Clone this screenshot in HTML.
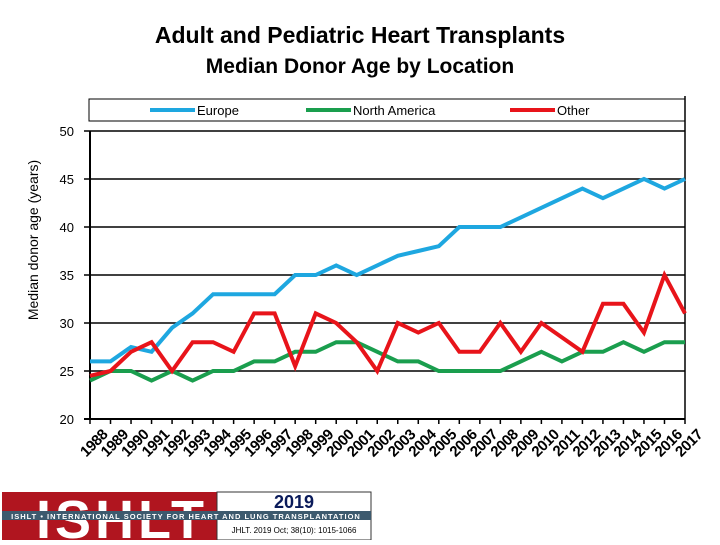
<!DOCTYPE html>
<html><head><meta charset="utf-8"><style>
body{margin:0;background:#fff;font-family:"Liberation Sans",sans-serif}
</style></head><body>
<svg width="720" height="540" xmlns="http://www.w3.org/2000/svg" id="c">
<text x="360" y="43" text-anchor="middle" font-size="23" font-weight="bold">Adult and Pediatric Heart Transplants</text>
<text x="360" y="73" text-anchor="middle" font-size="21" font-weight="bold">Median Donor Age by Location</text>
<rect x="89" y="99" width="596" height="22" fill="#fff" stroke="#000"/>
<g><line x1="150" y1="110" x2="195" y2="110" stroke="#1ea7e0" stroke-width="4"/><text x="197" y="115" font-size="13">Europe</text></g>
<g><line x1="306" y1="110" x2="351" y2="110" stroke="#1a9e4e" stroke-width="4"/><text x="353" y="115" font-size="13">North America</text></g>
<g><line x1="510" y1="110" x2="555" y2="110" stroke="#e8141a" stroke-width="4"/><text x="557" y="115" font-size="13">Other</text></g>
<text transform="translate(38,240) rotate(-90)" text-anchor="middle" font-size="14">Median donor age (years)</text>
<g id="plot"></g>
<g>
<rect x="2" y="492" width="215" height="48" fill="#b0151f"/>
<text x="122" y="538" text-anchor="middle" font-size="54" font-weight="bold" fill="#fff" letter-spacing="4">ISHLT</text>
<rect x="217" y="492" width="154" height="48" fill="#fff" stroke="#333"/>
<rect x="2" y="511" width="369" height="9" fill="#3d5a6e"/>
<text x="186" y="519" text-anchor="middle" font-size="7.5" font-weight="bold" fill="#fff" letter-spacing="1">ISHLT • INTERNATIONAL SOCIETY FOR HEART AND LUNG TRANSPLANTATION</text>
<text x="294" y="508" text-anchor="middle" font-size="18" font-weight="bold" fill="#0a1a5a">2019</text>
<text x="294" y="533" text-anchor="middle" font-size="8">JHLT. 2019 Oct; 38(10): 1015-1066</text>
</g>
</svg>
<script>
const years=[1988,1989,1990,1991,1992,1993,1994,1995,1996,1997,1998,1999,2000,2001,2002,2003,2004,2005,2006,2007,2008,2009,2010,2011,2012,2013,2014,2015,2016,2017];
const europe=[26,26,27.5,27,29.5,31,33,33,33,33,35,35,36,35,36,37,37.5,38,40,40,40,41,42,43,44,43,44,45,44,45];
const northAmerica=[24,25,25,24,25,24,25,25,26,26,27,27,28,28,27,26,26,25,25,25,25,26,27,26,27,27,28,27,28,28];
const other=[24.5,25,27,28,25,28,28,27,31,31,25.5,31,30,28,25,30,29,30,27,27,30,27,30,28.5,27,32,32,29,35,31];
const yTicks=[20,25,30,35,40,45,50];
const NS="http://www.w3.org/2000/svg";
const g=document.getElementById('plot');
const x0=90,x1=685,yTop=131,yBot=419;
const xs=i=>x0+(x1-x0)*i/(years.length-1);
const ys=v=>yBot-(v-20)/(50-20)*(yBot-yTop);
function mk(t,a){const e=document.createElementNS(NS,t);for(const k in a)e.setAttribute(k,a[k]);g.appendChild(e);return e;}
yTicks.forEach(v=>{
 const l=mk('line',{x1:x0-6,x2:x1,y1:ys(v),y2:ys(v),stroke:'#000','stroke-width':v==20?2:1.5});
 
 
 const t=mk('text',{x:x0-16,y:ys(v)+5,'text-anchor':'end','font-size':13});
 t.textContent=v;
 
 
});
const ax=mk('line',{x1:x0,x2:x0,y1:yTop,y2:yBot,stroke:'#000','stroke-width':2});


const rx=mk('line',{x1:x1,x2:x1,y1:yTop-35,y2:yBot,stroke:'#000','stroke-width':1.5});


years.forEach((y,i)=>{
 const tk=mk('line',{x1:xs(i),x2:xs(i),y1:yBot,y2:yBot+5,stroke:'#000','stroke-width':1.5});
 
 
 const t=mk('text',{transform:`translate(${xs(i)+10},${yBot+8}) rotate(-45)`,'text-anchor':'end','font-size':15,'font-weight':'bold','letter-spacing':'-0.5'});
 t.setAttribute('dy','0.8em');
 t.textContent=y;
 
 
});
[[europe,'#1ea7e0','europe'],[northAmerica,'#1a9e4e','north-america'],[other,'#e8141a','other']].forEach(([d,c,n])=>{
 const p=mk('polyline',{points:d.map((v,i)=>xs(i)+','+ys(v)).join(' '),fill:'none',stroke:c,'stroke-width':4,'stroke-linejoin':'miter'});
 
 
});
</script>
</body></html>
